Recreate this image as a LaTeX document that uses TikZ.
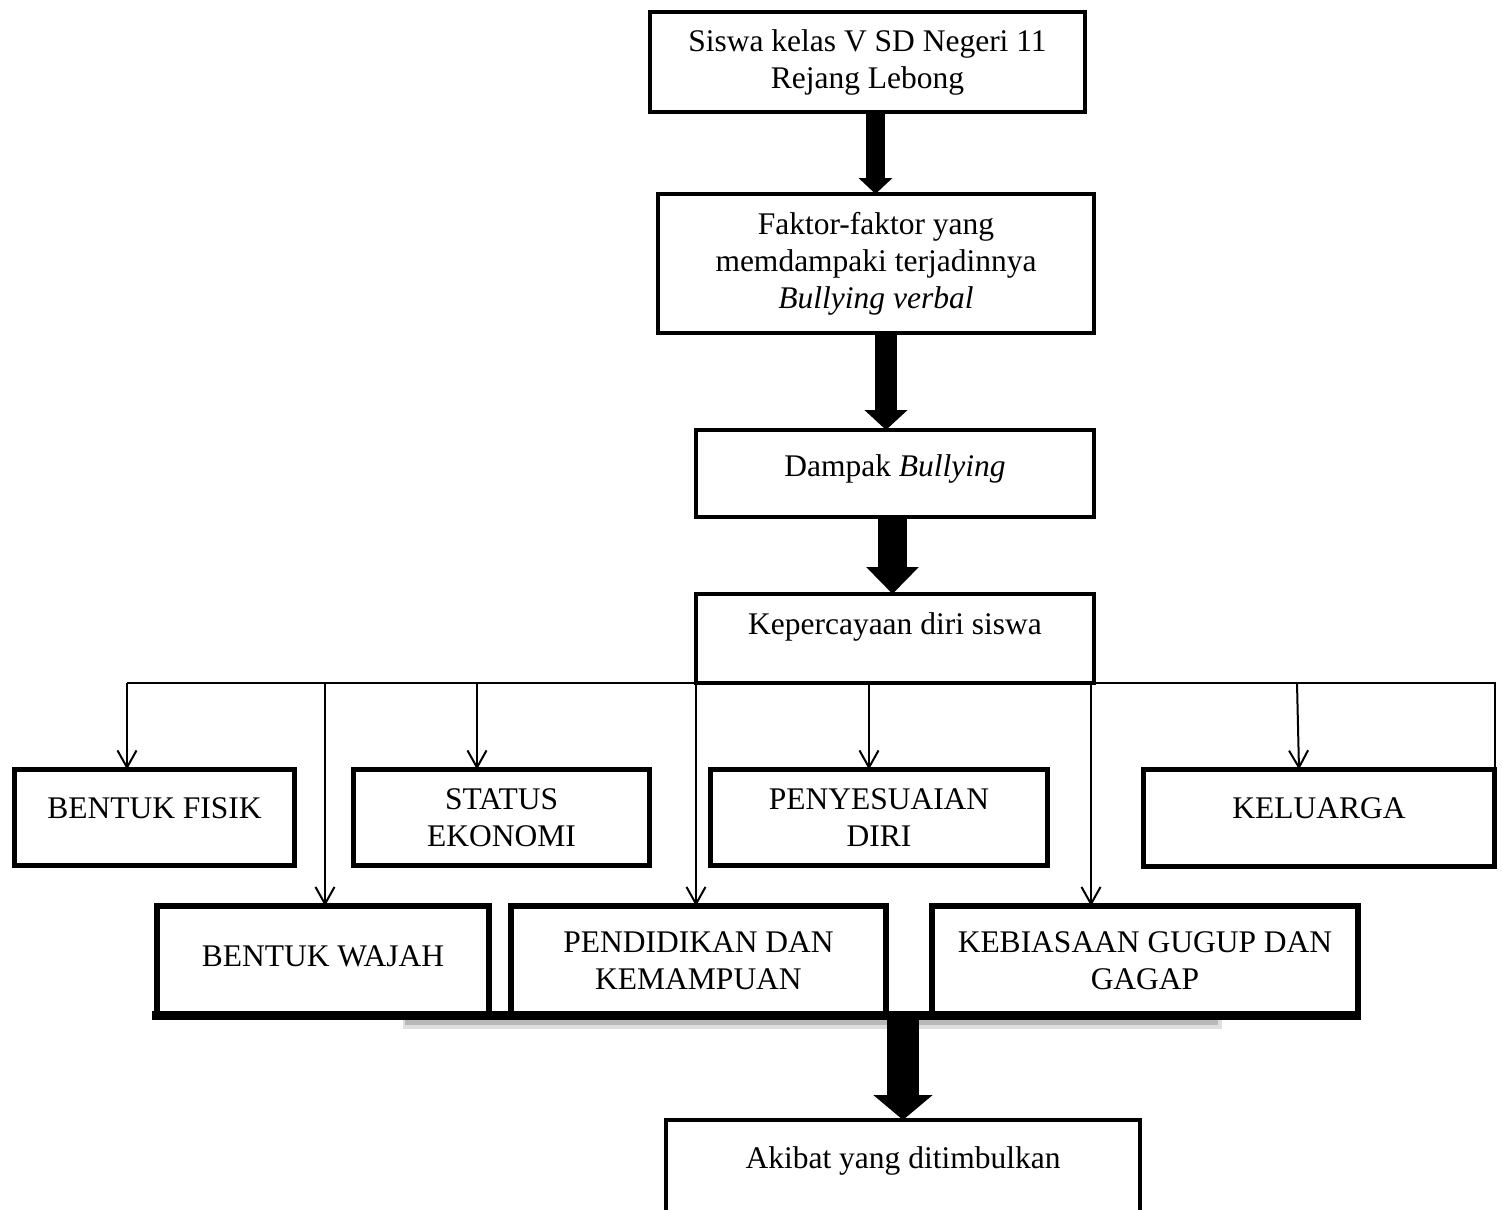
\documentclass[tikz,border=0pt]{standalone}
\usepackage{fontspec}
\setmainfont{Liberation Serif}
\usetikzlibrary{arrows.meta}

\begin{document}
\begin{tikzpicture}[x=1pt, y=-1pt,
    kotak/.style={draw, line width=4pt, inner sep=0pt, outer sep=0pt, align=center,
                  font=\fontsize{31.5}{37}\selectfont},
    kotakb/.style={kotak, line width=5pt},
    naik/.style={text height=21pt, text depth=#1},
    garis/.style={line width=2pt},
    panah/.style={garis, -{Straight Barb[width=19pt,length=17pt]}},
    blok/.style n args={3}{line width=#1, -{Triangle[width=#2,length=#3]}}]
    \useasboundingbox (0,0) rectangle (1502,1210);

    % Kotak utama
    \node[kotak, minimum width=435pt, minimum height=100pt] (siswa) at (867.5,62)
        {Siswa kelas V SD Negeri 11\\Rejang Lebong};
    \node[kotak, minimum width=436pt, minimum height=139pt] (faktor) at (876,263.5)
        {Faktor-faktor yang\\memdampaki terjadinnya\\\textit{Bullying verbal}};
    \node[kotak, naik=16pt, minimum width=398pt, minimum height=87pt] (dampak) at (895,473.5)
        {Dampak \textit{Bullying}};
    \node[kotak, naik=30pt, minimum width=398pt, minimum height=89pt] (kp) at (895,638.5)
        {Kepercayaan diri siswa};

    % Faktor baris atas
    \node[kotakb, naik=20pt, minimum width=280pt, minimum height=96pt] (fisik) at (154.5,817.5) {BENTUK FISIK};
    \node[kotakb, minimum width=296pt, minimum height=96pt] (status) at (501.5,817.5) {STATUS\\EKONOMI};
    \node[kotakb, minimum width=337pt, minimum height=96pt] (sesuai) at (879,817.5) {PENYESUAIAN\\DIRI};
    \node[kotakb, naik=20pt, minimum width=351pt, minimum height=97pt] (kel) at (1319,818) {KELUARGA};

    % Faktor baris bawah
    \node[kotakb, line width=6pt, naik=10pt, minimum width=332pt, minimum height=109pt] (wajah) at (323,960.5) {BENTUK WAJAH};
    \node[kotakb, line width=6pt, minimum width=375pt, minimum height=109pt] (pend) at (698.5,960.5) {PENDIDIKAN DAN\\KEMAMPUAN};
    \node[kotakb, line width=6pt, minimum width=426pt, minimum height=109pt] (gugup) at (1145,960.5) {KEBIASAAN GUGUP DAN\\GAGAP};

    \node[kotak, naik=45pt, minimum width=474pt, minimum height=120pt] (akibat) at (903,1180)
        {Akibat yang ditimbulkan};

    % Panah tebal
    \draw[blok={19pt}{33pt}{16pt}] ([xshift=8pt]siswa.south) -- ([xshift=-0.5pt]faktor.north);
    \draw[blok={22pt}{42pt}{20pt}] ([xshift=10pt]faktor.south) -- ([xshift=-9pt]dampak.north);
    \draw[blok={29pt}{51pt}{27pt}] ([xshift=-2.5pt]dampak.south) -- ([xshift=-2.5pt]kp.north);

    % Titik turun pada garis cabang
    \coordinate (d1) at (127,683);
    \coordinate (d2) at (325,683);
    \coordinate (d3) at (477,683);
    \coordinate (d4) at (696,683);
    \coordinate (d5) at (869,683);
    \coordinate (d6) at (1091,683);
    \coordinate (d7) at (1297,683);

    % Garis cabang
    \draw[garis] (kp.south west) -- (d1);
    \draw[garis] (kp.south east) -- (kp.south east -| kel.north east) -- (kel.north east);

    \draw[panah] (d1) -- (d1 |- fisik.north);
    \draw[panah] (d2) -- (d2 |- wajah.north);
    \draw[panah] (d3) -- (d3 |- status.north);
    \draw[panah] (d4) -- (d4 |- pend.north);
    \draw[panah] (d5) -- (d5 |- sesuai.north);
    \draw[panah] (d6) -- (d6 |- gugup.north);
    \draw[panah] (d7) -- ([xshift=2pt]d7 |- kel.north);

    % Garis tebal bawah dan bayangannya
    \fill[gray!25] (403,1019) rectangle (1222,1029);
    \fill[gray!55] (405,1019) rectangle (1218,1025);
    \draw[line width=9pt] ([xshift=-5pt]wajah.south west) -- ([xshift=3pt]gugup.south east);

    \draw[blok={32pt}{58pt}{25pt}] (akibat.north |- gugup.south) -- (akibat.north);

\end{tikzpicture}
\end{document}
